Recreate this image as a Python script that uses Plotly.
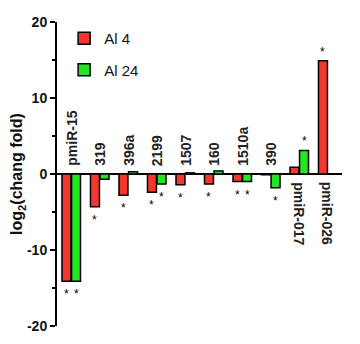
import plotly.graph_objects as go

categories = ["pmiR-15", "319", "396a", "2199", "1507", "160", "1510a", "390", "pmiR-017", "pmiR-026"]
al4 = [-14.1, -4.3, -2.8, -2.4, -1.4, -1.3, -1.0, -0.1, 0.9, 14.9]
al24 = [-14.1, -0.7, 0.3, -1.3, 0.15, 0.4, -1.0, -1.8, 3.1, 0.0]
sig_al4 = [True, True, True, True, True, True, True, False, False, True]
sig_al24 = [True, False, False, True, False, False, True, True, True, False]
y_ticks = [-20, -10, 0, 10, 20]

RED = "#f4372c"
GREEN = "#22e61f"
BOLD = "Arial, Liberation Sans, sans-serif"

fig = go.Figure()
fig.add_trace(go.Bar(x=categories, y=al4, name="Al 4", legendgroup="a",
                     marker=dict(color=RED, line=dict(color="black", width=1.5))))
fig.add_trace(go.Bar(x=categories, y=al24, name="Al 24", legendgroup="b",
                     marker=dict(color=GREEN, line=dict(color="black", width=1.5))))

annotations = []
bargap, groupgap = 0.33, 0.06
slot = (1 - bargap) / 2
offs = [-slot / 2, slot / 2]
for i, cat in enumerate(categories):
    for vals, sigs, off in ((al4, sig_al4, offs[0]), (al24, sig_al24, offs[1])):
        if sigs[i]:
            v = vals[i]
            annotations.append(dict(x=i + off, y=v, xref="x", yref="y", text="*",
                                    showarrow=False, font=dict(size=12, color="black", family=BOLD),
                                    yshift=-13 if v < 0 else 9))
    up = al4[i] <= 0.5
    annotations.append(dict(x=i, y=0, xref="x", yref="y", text="<b>%s</b>" % cat,
                            showarrow=False, textangle=-90 if up else 90,
                            yanchor="bottom" if up else "top", xanchor="center",
                            yshift=6 if up else -6,
                            font=dict(size=14, color="#222", family=BOLD)))

# the page body has an 8px margin, so the figure is sized to fit the 360x344 window
fig.update_layout(
    width=352, height=336,
    margin=dict(l=49, r=18, t=14, b=18, autoexpand=False),
    paper_bgcolor="white", plot_bgcolor="white",
    barmode="group", bargap=bargap, bargroupgap=groupgap,
    showlegend=True,
    legend=dict(x=0.025, y=1.0, xanchor="left", yanchor="top",
                font=dict(size=15, family=BOLD, color="#111"),
                tracegroupgap=9, bgcolor="rgba(0,0,0,0)"),
    annotations=annotations,
)
fig.update_xaxes(showticklabels=False, showline=False, ticks="", showgrid=False,
                 range=[-0.5, 9.5], zeroline=False, automargin=False)
fig.update_yaxes(range=[-20, 20], tickvals=y_ticks, ticktext=["<b>%d</b>" % t for t in y_ticks],
                 showgrid=False, zeroline=True, zerolinecolor="black", zerolinewidth=2,
                 showline=True, linecolor="black", linewidth=2, automargin=False,
                 ticks="outside", ticklen=5, tickwidth=2, tickcolor="black",
                 minor=dict(tickvals=[-15, -5, 5, 15], ticks="outside", ticklen=3, tickwidth=2, tickcolor="black"),
                 tickfont=dict(size=14, family=BOLD, color="#111"),
                 title=dict(text="<b>log<sub>2</sub>(chang fold)</b>", standoff=0,
                            font=dict(size=16, family=BOLD, color="#111")))

fig.write_html("out.html")
